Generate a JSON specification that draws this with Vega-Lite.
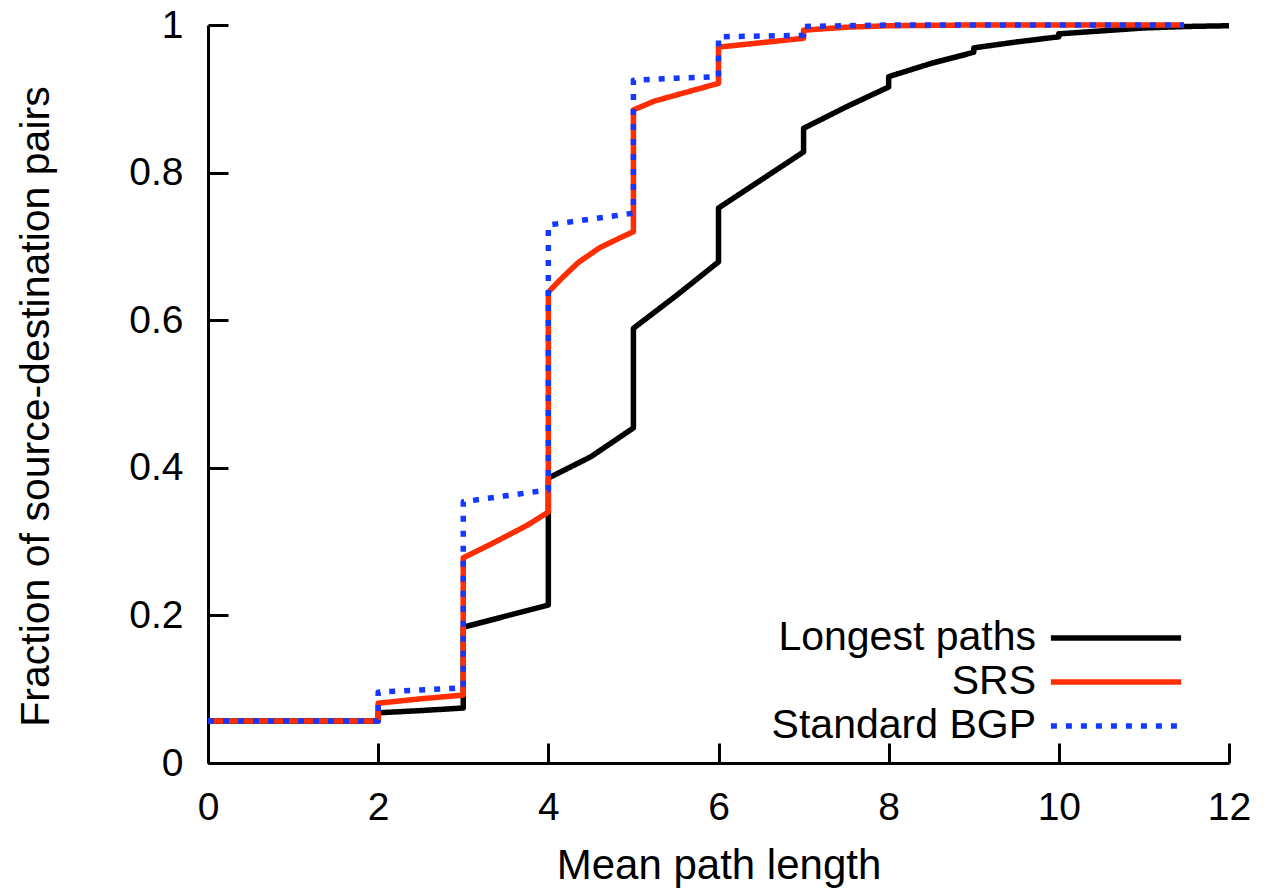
{
  "$schema": "https://vega.github.io/schema/vega-lite/v6.json",
  "width": 1021,
  "height": 738,
  "autosize": {"type": "none"},
  "padding": {"left": 208, "top": 25, "right": 50, "bottom": 127},
  "background": "white",
  "config": {
    "view": {"stroke": null},
    "font": "Liberation Sans",
    "axis": {
      "grid": false,
      "domainColor": "black",
      "domainWidth": 3,
      "tickColor": "black",
      "tickWidth": 3,
      "tickSize": -20,
      "labelFont": "Liberation Sans",
      "labelFontSize": 39,
      "labelColor": "black",
      "titleFont": "Liberation Sans",
      "titleFontSize": 42,
      "titleFontWeight": "normal",
      "titleColor": "black",
      "labelFlush": false,
      "labelOverlap": false
    },
    "legend": {
      "labelFont": "Liberation Sans",
      "labelFontSize": 41,
      "labelColor": "black",
      "padding": 0
    }
  },
  "data": {
    "values": [
      {"series": "Longest paths", "i": 0, "x": 0, "y": 0.057},
      {"series": "Longest paths", "i": 1, "x": 2, "y": 0.057},
      {"series": "Longest paths", "i": 2, "x": 2, "y": 0.068},
      {"series": "Longest paths", "i": 3, "x": 2.5, "y": 0.071},
      {"series": "Longest paths", "i": 4, "x": 3, "y": 0.0745},
      {"series": "Longest paths", "i": 5, "x": 3, "y": 0.184},
      {"series": "Longest paths", "i": 6, "x": 3.5, "y": 0.199},
      {"series": "Longest paths", "i": 7, "x": 4, "y": 0.214},
      {"series": "Longest paths", "i": 8, "x": 4, "y": 0.386},
      {"series": "Longest paths", "i": 9, "x": 4.5, "y": 0.415},
      {"series": "Longest paths", "i": 10, "x": 5, "y": 0.454},
      {"series": "Longest paths", "i": 11, "x": 5, "y": 0.589},
      {"series": "Longest paths", "i": 12, "x": 5.5, "y": 0.633},
      {"series": "Longest paths", "i": 13, "x": 6, "y": 0.679},
      {"series": "Longest paths", "i": 14, "x": 6, "y": 0.752},
      {"series": "Longest paths", "i": 15, "x": 6.5, "y": 0.79},
      {"series": "Longest paths", "i": 16, "x": 7, "y": 0.828},
      {"series": "Longest paths", "i": 17, "x": 7, "y": 0.86},
      {"series": "Longest paths", "i": 18, "x": 7.5, "y": 0.889},
      {"series": "Longest paths", "i": 19, "x": 8, "y": 0.916},
      {"series": "Longest paths", "i": 20, "x": 8, "y": 0.93},
      {"series": "Longest paths", "i": 21, "x": 8.5, "y": 0.948},
      {"series": "Longest paths", "i": 22, "x": 9, "y": 0.963},
      {"series": "Longest paths", "i": 23, "x": 9, "y": 0.969},
      {"series": "Longest paths", "i": 24, "x": 9.5, "y": 0.977},
      {"series": "Longest paths", "i": 25, "x": 10, "y": 0.984},
      {"series": "Longest paths", "i": 26, "x": 10, "y": 0.988},
      {"series": "Longest paths", "i": 27, "x": 10.5, "y": 0.992},
      {"series": "Longest paths", "i": 28, "x": 11, "y": 0.996},
      {"series": "Longest paths", "i": 29, "x": 11.5, "y": 0.998},
      {"series": "Longest paths", "i": 30, "x": 12, "y": 0.999},

      {"series": "SRS", "i": 0, "x": 0, "y": 0.057},
      {"series": "SRS", "i": 1, "x": 2, "y": 0.057},
      {"series": "SRS", "i": 2, "x": 2, "y": 0.081},
      {"series": "SRS", "i": 3, "x": 2.5, "y": 0.087},
      {"series": "SRS", "i": 4, "x": 3, "y": 0.092},
      {"series": "SRS", "i": 5, "x": 3, "y": 0.278},
      {"series": "SRS", "i": 6, "x": 3.35, "y": 0.298},
      {"series": "SRS", "i": 7, "x": 3.75, "y": 0.322},
      {"series": "SRS", "i": 8, "x": 4, "y": 0.34},
      {"series": "SRS", "i": 9, "x": 4, "y": 0.638},
      {"series": "SRS", "i": 10, "x": 4.15, "y": 0.656},
      {"series": "SRS", "i": 11, "x": 4.35, "y": 0.678},
      {"series": "SRS", "i": 12, "x": 4.6, "y": 0.698},
      {"series": "SRS", "i": 13, "x": 4.85, "y": 0.712},
      {"series": "SRS", "i": 14, "x": 5, "y": 0.72},
      {"series": "SRS", "i": 15, "x": 5, "y": 0.885},
      {"series": "SRS", "i": 16, "x": 5.25, "y": 0.897},
      {"series": "SRS", "i": 17, "x": 5.5, "y": 0.905},
      {"series": "SRS", "i": 18, "x": 5.75, "y": 0.913},
      {"series": "SRS", "i": 19, "x": 6, "y": 0.921},
      {"series": "SRS", "i": 20, "x": 6, "y": 0.97},
      {"series": "SRS", "i": 21, "x": 6.5, "y": 0.976},
      {"series": "SRS", "i": 22, "x": 7, "y": 0.982},
      {"series": "SRS", "i": 23, "x": 7, "y": 0.993},
      {"series": "SRS", "i": 24, "x": 7.5, "y": 0.997},
      {"series": "SRS", "i": 25, "x": 8, "y": 0.999},
      {"series": "SRS", "i": 26, "x": 9, "y": 1.0},
      {"series": "SRS", "i": 27, "x": 11.47, "y": 1.0},

      {"series": "Standard BGP", "i": 0, "x": 0, "y": 0.057},
      {"series": "Standard BGP", "i": 1, "x": 2, "y": 0.057},
      {"series": "Standard BGP", "i": 2, "x": 2, "y": 0.096},
      {"series": "Standard BGP", "i": 3, "x": 2.5, "y": 0.099},
      {"series": "Standard BGP", "i": 4, "x": 3, "y": 0.102},
      {"series": "Standard BGP", "i": 5, "x": 3, "y": 0.354},
      {"series": "Standard BGP", "i": 6, "x": 3.5, "y": 0.362},
      {"series": "Standard BGP", "i": 7, "x": 4, "y": 0.37},
      {"series": "Standard BGP", "i": 8, "x": 4, "y": 0.729},
      {"series": "Standard BGP", "i": 9, "x": 4.5, "y": 0.737},
      {"series": "Standard BGP", "i": 10, "x": 5, "y": 0.745},
      {"series": "Standard BGP", "i": 11, "x": 5, "y": 0.925},
      {"series": "Standard BGP", "i": 12, "x": 5.5, "y": 0.928},
      {"series": "Standard BGP", "i": 13, "x": 6, "y": 0.93},
      {"series": "Standard BGP", "i": 14, "x": 6, "y": 0.984},
      {"series": "Standard BGP", "i": 15, "x": 6.5, "y": 0.985},
      {"series": "Standard BGP", "i": 16, "x": 7, "y": 0.986},
      {"series": "Standard BGP", "i": 17, "x": 7, "y": 0.998},
      {"series": "Standard BGP", "i": 18, "x": 8, "y": 1.0},
      {"series": "Standard BGP", "i": 19, "x": 11.47, "y": 1.0}
    ]
  },
  "mark": {"type": "line", "strokeWidth": 5.5, "strokeJoin": "round"},
  "encoding": {
    "x": {
      "field": "x", "type": "quantitative",
      "scale": {"domain": [0, 12], "nice": false, "zero": false},
      "axis": {"values": [0, 2, 4, 6, 8, 10, 12], "format": "~g", "labelPadding": 45, "title": "Mean path length", "titleBaseline": "alphabetic", "titleY": 115}
    },
    "y": {
      "field": "y", "type": "quantitative",
      "scale": {"domain": [0, 1], "nice": false},
      "axis": {"values": [0, 0.2, 0.4, 0.6, 0.8, 1], "format": "~g", "labelPadding": 45, "title": "Fraction of source-destination pairs", "titleFontSize": 41, "titleBaseline": "alphabetic", "titleX": -160, "titleY": 381, "titleAngle": -90}
    },
    "order": {"field": "i", "type": "quantitative"},
    "color": {
      "field": "series", "type": "nominal",
      "scale": {"domain": ["Longest paths", "SRS", "Standard BGP"], "range": ["#000000", "#ff2d00", "#1438ff"]},
      "legend": {
        "title": null,
        "orient": "none",
        "legendX": 884,
        "legendY": 589,
        "symbolType": "M-3.1,0H3.1",
        "symbolSize": 1764,
        "symbolStrokeWidth": 5.5,
        "labelAlign": "right",
        "labelBaseline": "middle",
        "labelOffset": -104,
        "labelLimit": 0,
        "rowPadding": 0
      }
    },
    "strokeDash": {
      "field": "series", "type": "nominal",
      "scale": {"domain": ["Longest paths", "SRS", "Standard BGP"], "range": [[1, 0], [1, 0], [6, 9]]},
      "legend": null
    }
  }
}
